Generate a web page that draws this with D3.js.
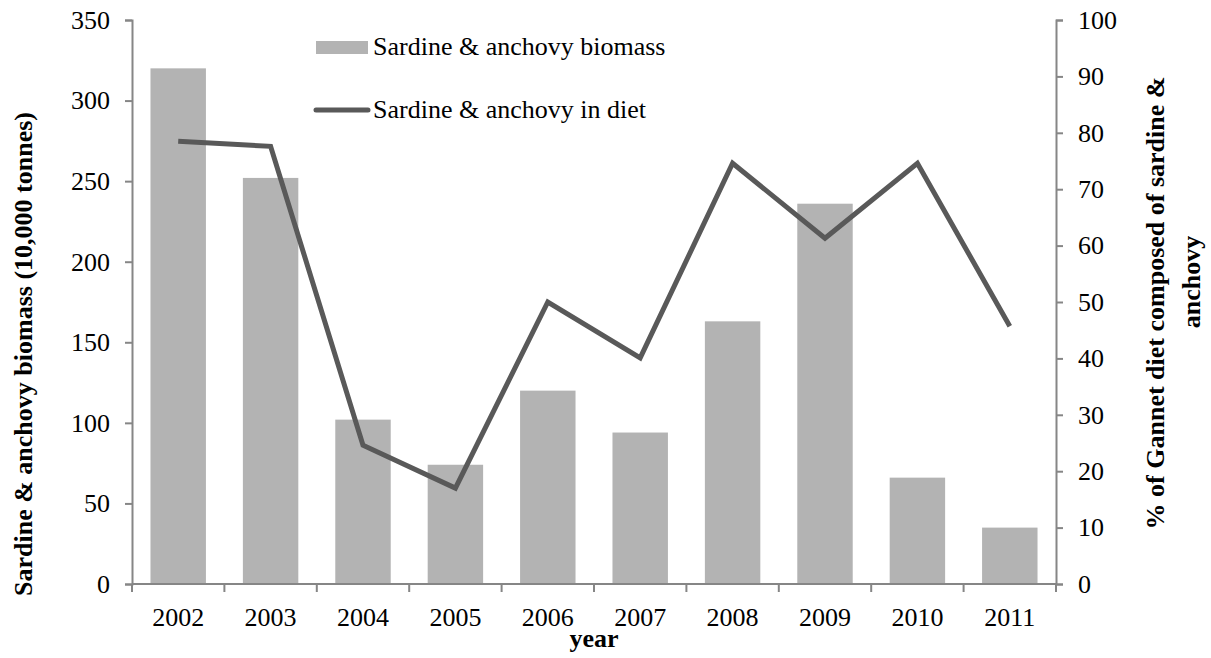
<!DOCTYPE html>
<html>
<head>
<meta charset="utf-8">
<script src="https://cdn.jsdelivr.net/npm/d3@7"></script>
<style>
  body { margin: 0; background: #fff; }
</style>
</head>
<body>
<div id="chart"></div>
<script>
let years = ['2002', '2003', '2004', '2005', '2006', '2007', '2008', '2009', '2010', '2011']
let biomass = [320, 252, 102, 74, 120, 94, 163, 236, 66, 35]
let diet = [78.5, 77.6, 24.6, 17.0, 50.0, 40.1, 74.6, 61.3, 74.6, 45.7]
let leftTicks = [0, 50, 100, 150, 200, 250, 300, 350]
let rightTicks = [0, 10, 20, 30, 40, 50, 60, 70, 80, 90, 100]

let margin = { top: 20, left: 132, right: 155, bottom: 74 }
let width = 1211 - margin.left - margin.right
let height = 658 - margin.top - margin.bottom

let serif = "'Liberation Serif', 'Times New Roman', serif"
let axisColor = '#868686'
let fontSize = 26
let titleSize = 26

let svg = d3
  .select('#chart')
  .append('svg')
  .attr('width', 1211)
  .attr('height', 658)
  .style('font-family', serif)
  .append('g')
  .attr('transform', 'translate(' + margin.left + ',' + margin.top + ')')

let x = d3.scaleBand().domain(years).range([0, width]).paddingInner(0.4).paddingOuter(0.2)
let yLeft = d3.scaleLinear().domain([0, 350]).range([height, 0])
let yRight = d3.scaleLinear().domain([0, 100]).range([height, 0])

// bars
svg
  .selectAll('.bar')
  .data(biomass)
  .enter()
  .append('rect')
  .attr('class', 'bar')
  .attr('x', (d, i) => x(years[i]))
  .attr('width', x.bandwidth())
  .attr('y', d => yLeft(d))
  .attr('height', d => height - yLeft(d))
  .attr('fill', '#b3b3b3')

// line
let line = d3
  .line()
  .x((d, i) => x(years[i]) + x.bandwidth() / 2)
  .y(d => yRight(d))

svg
  .append('path')
  .datum(diet)
  .attr('d', line)
  .attr('fill', 'none')
  .attr('stroke', '#595959')
  .attr('stroke-width', 5)
  .attr('stroke-linejoin', 'miter')

// axes
function styleAxis(g) {
  g.attr('font-family', null).attr('font-size', null)
  g.select('.domain').attr('stroke', axisColor).attr('stroke-width', 2)
  g.selectAll('.tick line').attr('stroke', axisColor).attr('stroke-width', 2)
  g.selectAll('.tick text')
    .style('font-family', serif)
    .style('font-size', fontSize + 'px')
    .attr('fill', '#000')
}

svg
  .append('g')
  .call(d3.axisLeft(yLeft).tickValues(leftTicks).tickSize(7).tickSizeOuter(7).tickPadding(15))
  .call(styleAxis)

svg
  .append('g')
  .attr('transform', 'translate(' + width + ',0)')
  .call(d3.axisRight(yRight).tickValues(rightTicks).tickSize(7).tickSizeOuter(7).tickPadding(15))
  .call(styleAxis)

// x axis: ticks at the band boundaries, labels at the centres
let xAxis = svg
  .append('g')
  .attr('transform', 'translate(0,' + height + ')')

xAxis
  .append('line')
  .attr('x1', 0)
  .attr('x2', width)
  .attr('stroke', axisColor)
  .attr('stroke-width', 2)

let bounds = years.map(y => x(y) - x.step() * x.paddingInner() / 2).concat([width])
bounds[0] = 0
xAxis
  .selectAll('.xtick')
  .data(bounds)
  .enter()
  .append('line')
  .attr('x1', d => d)
  .attr('x2', d => d)
  .attr('y1', 0)
  .attr('y2', 8)
  .attr('stroke', axisColor)
  .attr('stroke-width', 2)

xAxis
  .selectAll('.xlabel')
  .data(years)
  .enter()
  .append('text')
  .attr('x', d => x(d) + x.bandwidth() / 2)
  .attr('y', 42)
  .attr('text-anchor', 'middle')
  .style('font-family', serif)
  .style('font-size', fontSize + 'px')
  .text(d => d)

// axis titles
svg
  .append('text')
  .attr('x', 594 - margin.left)
  .attr('y', height + 63)
  .attr('text-anchor', 'middle')
  .style('font-family', serif)
  .style('font-size', titleSize + 'px')
  .style('font-weight', 'bold')
  .text('year')

svg
  .append('text')
  .attr('transform', 'translate(' + (32 - margin.left) + ',' + (354 - margin.top) + ') rotate(-90)')
  .attr('text-anchor', 'middle')
  .style('font-family', serif)
  .style('font-size', titleSize + 'px')
  .style('font-weight', 'bold')
  .text('Sardine & anchovy biomass (10,000 tonnes)')

svg
  .append('text')
  .attr('transform', 'translate(' + (1164 - margin.left) + ',' + (303 - margin.top) + ') rotate(-90)')
  .attr('text-anchor', 'middle')
  .style('font-family', serif)
  .style('font-size', titleSize + 'px')
  .style('font-weight', 'bold')
  .text('% of Gannet diet composed of sardine &')

svg
  .append('text')
  .attr('transform', 'translate(' + (1200 - margin.left) + ',' + (282 - margin.top) + ') rotate(-90)')
  .attr('text-anchor', 'middle')
  .style('font-family', serif)
  .style('font-size', titleSize + 'px')
  .style('font-weight', 'bold')
  .text('anchovy')

// legend
let legend = svg.append('g').attr('transform', 'translate(' + (316 - margin.left) + ',' + (-margin.top) + ')')

legend
  .append('rect')
  .attr('x', 0)
  .attr('y', 41)
  .attr('width', 52)
  .attr('height', 13)
  .attr('fill', '#b3b3b3')

legend
  .append('text')
  .attr('x', 57)
  .attr('y', 55)
  .style('font-family', serif)
  .style('font-size', fontSize + 'px')
  .text('Sardine & anchovy biomass')

legend
  .append('line')
  .attr('x1', 0)
  .attr('x2', 52)
  .attr('y1', 110)
  .attr('y2', 110)
  .attr('stroke', '#595959')
  .attr('stroke-width', 5)
  .attr('stroke-linecap', 'round')

legend
  .append('text')
  .attr('x', 57)
  .attr('y', 118)
  .style('font-family', serif)
  .style('font-size', fontSize + 'px')
  .text('Sardine & anchovy in diet')
</script>
</body>
</html>
